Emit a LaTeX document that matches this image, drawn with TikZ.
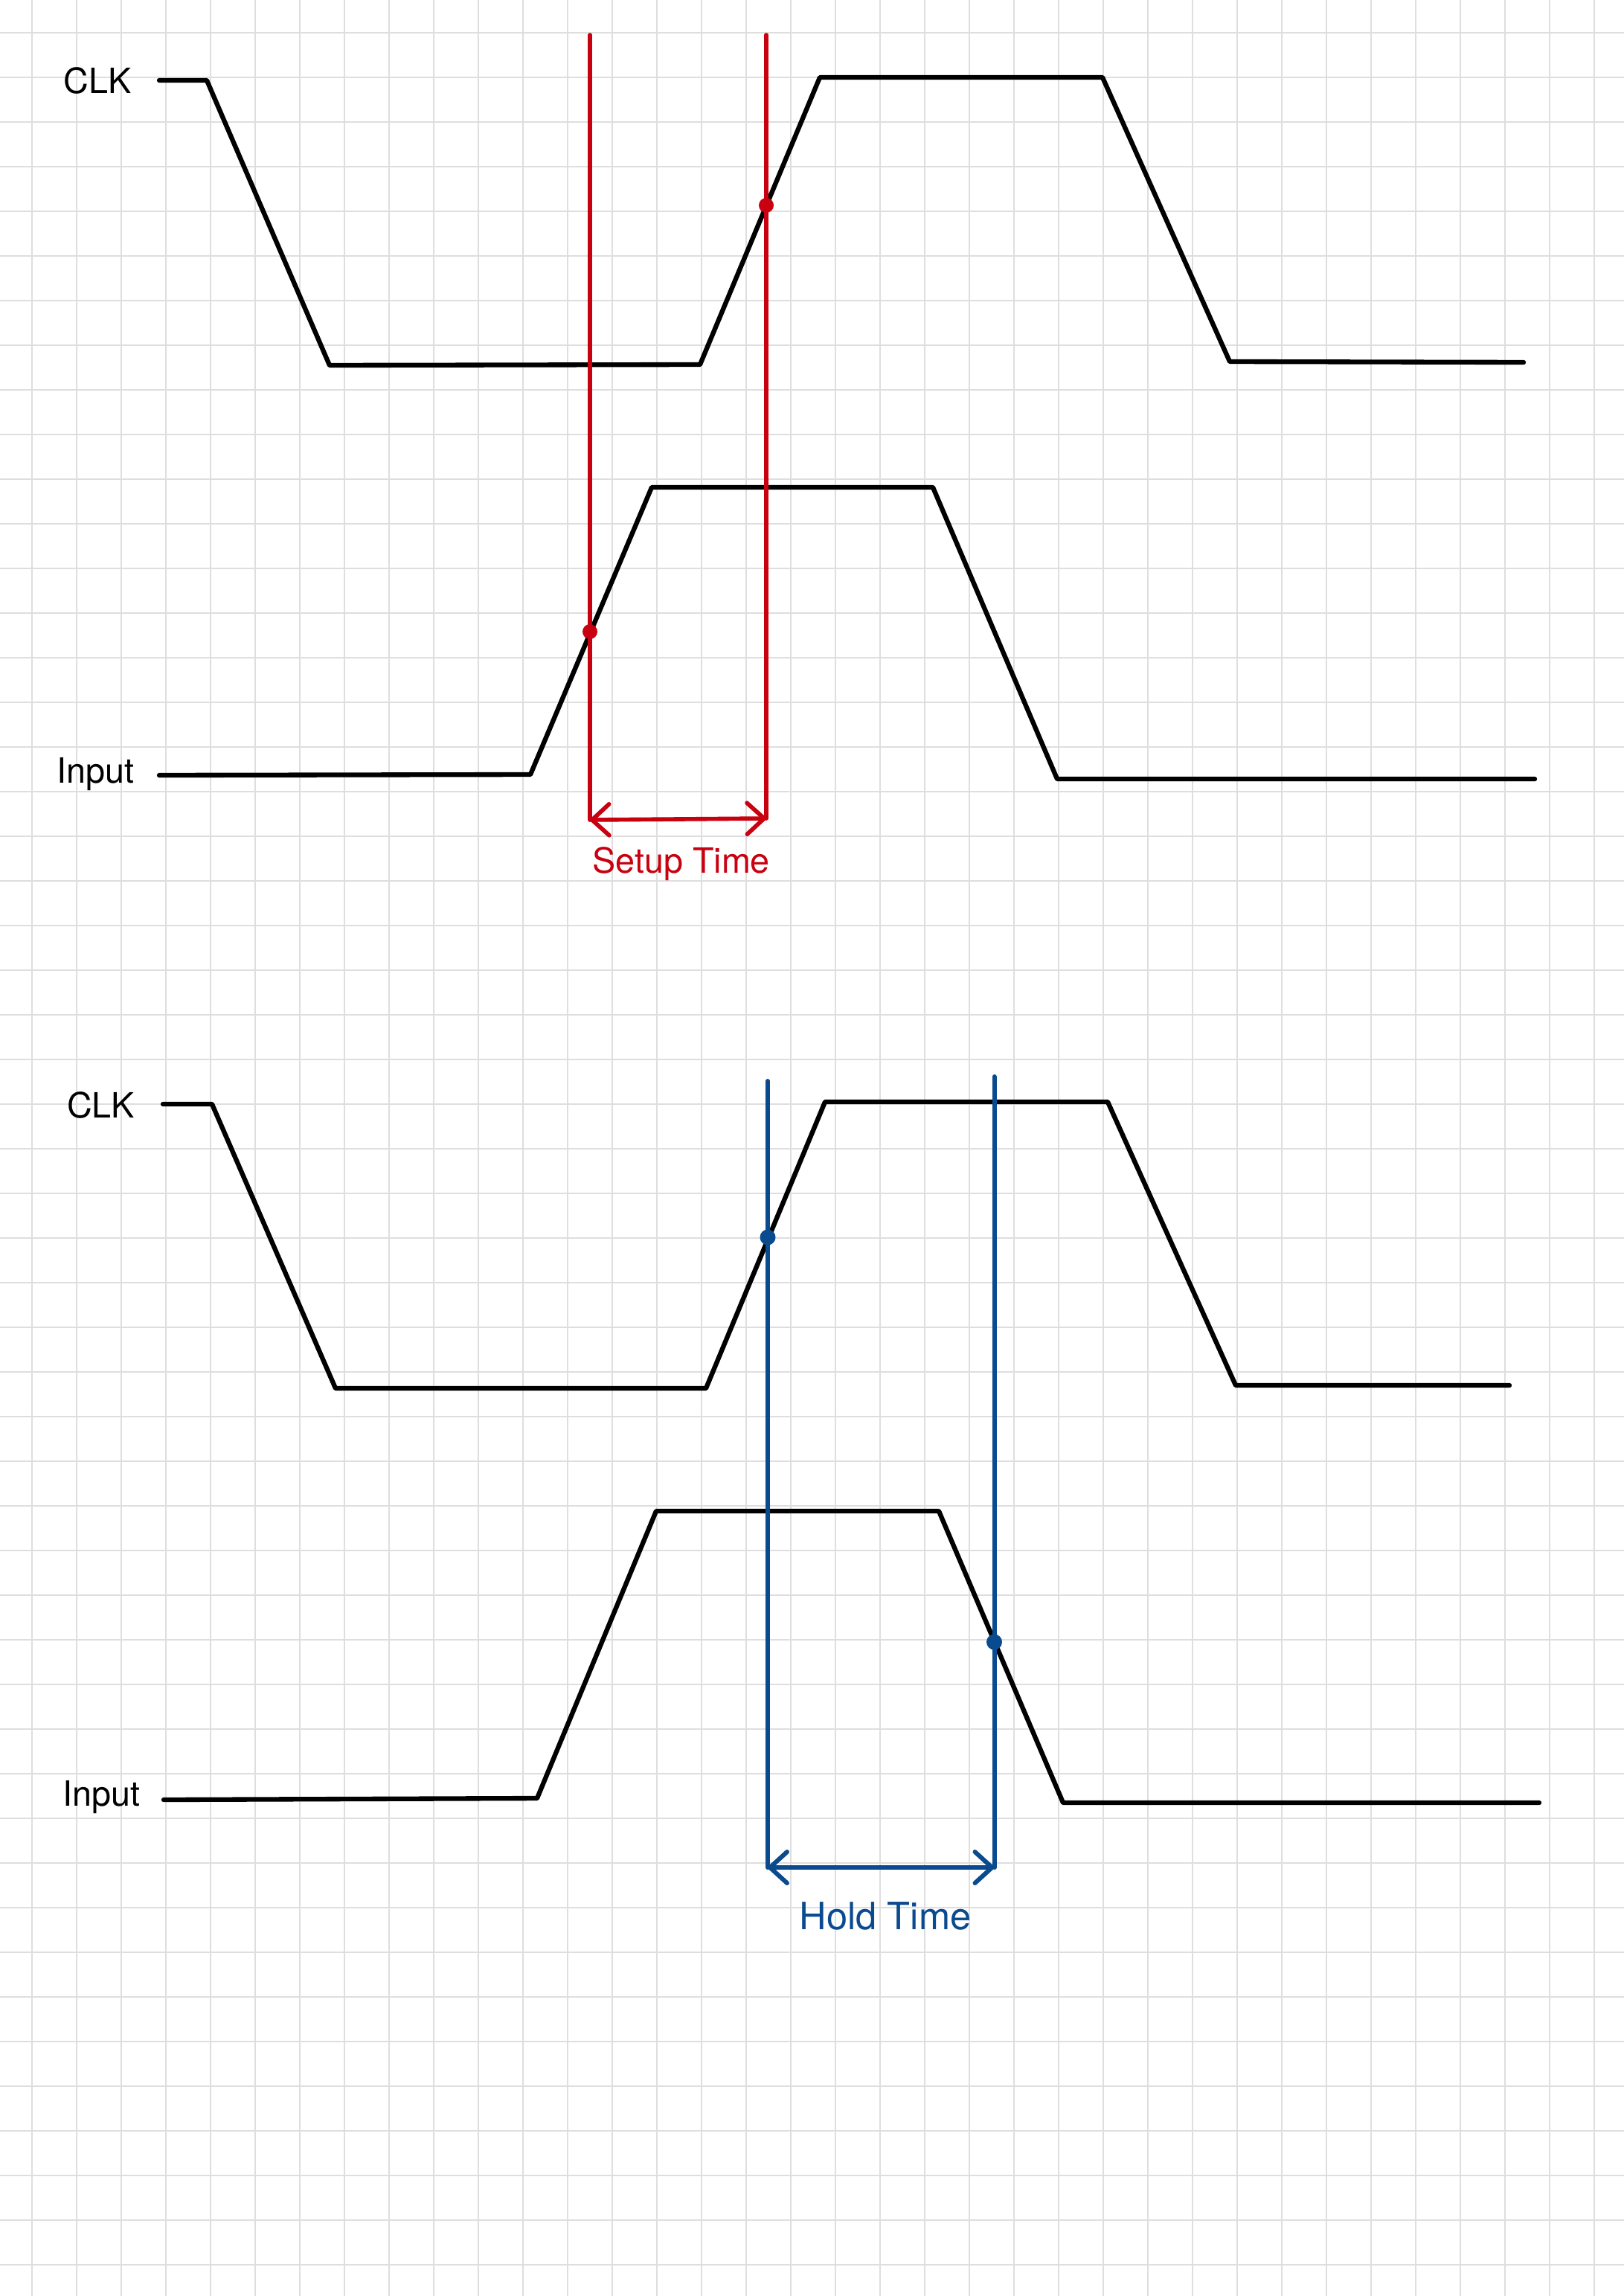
\documentclass[tikz,border=0pt]{standalone}
\usepackage{fontspec}
\setmainfont{TeX Gyre Heros}
\usepackage{tikz}
\usetikzlibrary{arrows.meta,positioning,calc}
\definecolor{ink}{HTML}{000000}
\definecolor{gridgray}{HTML}{DEDEDE}
\definecolor{setupred}{HTML}{C8000F}
\definecolor{holdblue}{HTML}{0A4A8E}
\tikzset{
  wave/.style={draw=ink,line width=1.8pt,line join=round,line cap=round},
  sigtext/.style={font=\fontsize{13.3}{16}\selectfont,text=ink,inner sep=0pt,
                  anchor=base},
  setupline/.style={draw=setupred,line width=1.6pt,line cap=round},
  holdline/.style={draw=holdblue,line width=1.7pt,line cap=round},
  setuparr/.style={{Straight Barb[length=2.3mm,width=4.2mm,round]}-{Straight Barb[length=2.3mm,width=4.2mm,round]},
                   line width=1.6pt,line cap=round,draw=setupred},
  holdarr/.style={{Straight Barb[length=2.3mm,width=4.2mm,round]}-{Straight Barb[length=2.3mm,width=4.2mm,round]},
                  line width=1.7pt,line cap=round,draw=holdblue},
  marktext/.style={inner sep=0pt,anchor=base}
}
\begin{document}
\begin{tikzpicture}[x=1cm,y=-1cm]
    \fill[white] (0,0) rectangle (21.83,30.86);
    \path[use as bounding box] (0,0) rectangle (21.83,30.86);

    % squared paper
    \foreach \i in {0,...,35}
      \draw[gridgray,line width=0.55pt] ({0.43+0.6*\i},0) -- ({0.43+0.6*\i},30.86);
    \foreach \j in {0,...,50}
      \draw[gridgray,line width=0.55pt] (0,{0.44+0.6*\j}) -- (21.83,{0.44+0.6*\j});

    % ---- setup time ----
    \node[sigtext] (clkA) at (1.31,1.257) {CLK};
    \node[sigtext] (inA) at (1.285,10.52) {Input};
    \draw[wave] (2.14,1.08) -- (2.78,1.08) -- (4.43,4.91) -- (9.41,4.90)
      -- (11.02,1.04) -- (14.82,1.04) -- (16.53,4.86) -- (20.48,4.87);
    \draw[wave] (2.14,10.42) -- (7.13,10.41) -- (8.76,6.55) -- (12.54,6.55)
      -- (14.21,10.47) -- (20.63,10.47);

    \coordinate (su1top) at (7.93,0.47);
    \coordinate (su1bot) at (7.93,11.02);
    \coordinate (su2top) at (10.30,0.47);
    \coordinate (su2bot) at (10.30,11.00);
    \draw[setupline] (su1top) -- (su1bot);
    \draw[setupline] (su2top) -- (su2bot);
    \draw[setuparr] (su1bot) -- (su2bot);
    \fill[setupred] (7.93,8.49) circle (0.1);
    \fill[setupred] (10.30,2.76) circle (0.1);
    \node[marktext,text=setupred,font=\fontsize{13.3}{16}\selectfont]
      (setuplbl) at (9.157,11.733) {Setup Time};

    % ---- hold time ----
    \node[sigtext] (clkB) at (1.355,15.02) {CLK};
    \node[sigtext] (inB) at (1.362,24.27) {Input};
    \draw[wave] (2.19,14.84) -- (2.85,14.84) -- (4.51,18.66) -- (9.49,18.66)
      -- (11.09,14.81) -- (14.89,14.81) -- (16.61,18.62) -- (20.29,18.62);
    \draw[wave] (2.20,24.19) -- (7.22,24.17) -- (8.82,20.31) -- (12.62,20.31)
      -- (14.29,24.23) -- (20.69,24.23);

    \coordinate (ho1top) at (10.32,14.53);
    \coordinate (ho1bot) at (10.32,25.10);
    \coordinate (ho2top) at (13.365,14.47);
    \coordinate (ho2bot) at (13.365,25.10);
    \draw[holdline] (ho1top) -- (ho1bot);
    \draw[holdline] (ho2top) -- (ho2bot);
    \draw[holdarr] (ho1bot) -- (ho2bot);
    \fill[holdblue] (10.32,16.63) circle (0.105);
    \fill[holdblue] (13.365,22.07) circle (0.105);
    \node[marktext,text=holdblue,font=\fontsize{14.4}{17}\selectfont]
      (holdlbl) at (11.90,25.933) {Hold Time};
\end{tikzpicture}
\end{document}
